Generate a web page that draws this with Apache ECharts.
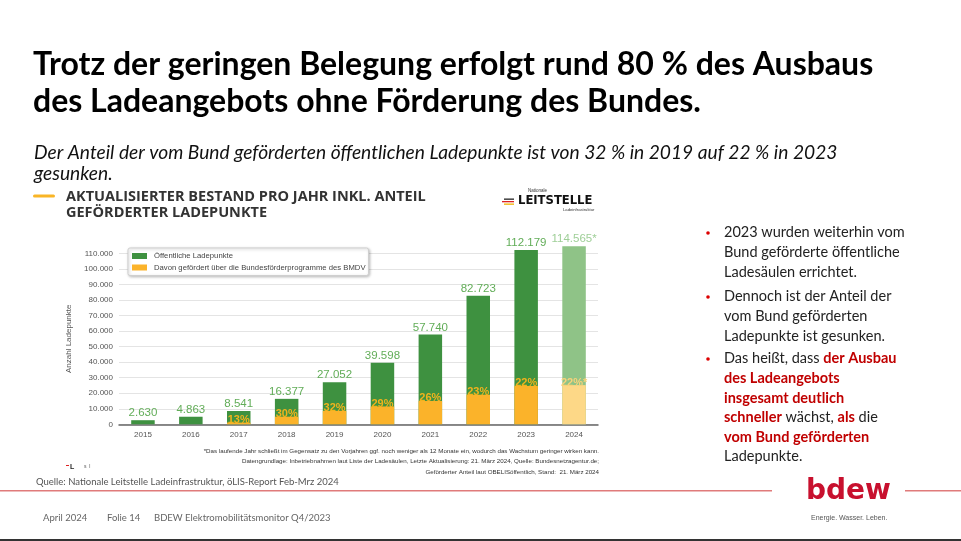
<!DOCTYPE html>
<html><head><meta charset="utf-8">
<script src="https://cdn.jsdelivr.net/npm/echarts@6/dist/echarts.min.js"></script>
<style>html,body{margin:0;padding:0;background:#fff}#c{width:961px;height:541px}</style>
</head><body><div id="c"></div>
<script>
const years = ['2015','2016','2017','2018','2019','2020','2021','2022','2023','2024'];
const totalPoints = [2630, 4863, 8541, 16377, 27052, 39598, 57740, 82723, 112179, 114565];
const fundedShare = [null, null, 13, 30, 32, 29, 26, 23, 22, 22];
const yTicks = [0, 10000, 20000, 30000, 40000, 50000, 60000, 70000, 80000, 90000, 100000, 110000];

const GREEN = '#3e9140', YELLOW = '#fbb32a', GREEN_L = '#8fc387', YELLOW_L = '#fdd887';
const LBL_G = '#62ad58', LBL_G_L = '#9fcf98', LBL_Y = '#f3b31c', LBL_Y_L = '#f8d27a';
const fmt = v => String(v).replace(/\B(?=(\d{3})+(?!\d))/g, '.');
const last = years.length - 1;

const greenData = totalPoints.map((v, i) => ({
  value: v,
  itemStyle: { color: i === last ? GREEN_L : GREEN },
  label: { color: i === last ? LBL_G_L : LBL_G, formatter: fmt(v) + (i === last ? '*' : '') }
}));
const yellowData = totalPoints.map((v, i) => fundedShare[i] == null ? { value: 0, label: { show: false } } : ({
  value: Math.round(v * fundedShare[i] / 100),
  itemStyle: { color: i === last ? YELLOW_L : YELLOW },
  label: { color: i === last ? LBL_Y_L : LBL_Y, formatter: fundedShare[i] + '%' + (i === last ? '*' : '') }
}));

const F = 'Lato';
const chart = echarts.init(document.getElementById('c'));
// text placed by its left edge and vertical centre
const txt = (x, y, text, style) => ({ type: 'text', x, y, style: Object.assign({ text, fontFamily: F, fill: '#222', verticalAlign: 'middle' }, style) });
const bulletLines = { fontFamily: F, fontSize: 14.5, lineHeight: 19.6, fill: '#222',
  rich: { r: { fontFamily: F, fontSize: 14.5, lineHeight: 19.6, fill: '#c00000', fontWeight: 'bold' } } };
const foot = (y, text) => ({ type: 'text', x: 599, y, style: { text, fontSize: 6.2, fill: '#333', fontFamily: 'Liberation Sans', align: 'right', verticalAlign: 'middle' } });

chart.setOption({
  animation: false,
  grid: { left: 119, right: 363, top: 253.3, bottom: 116.7, containLabel: false },
  legend: {
    left: 128, top: 248, orient: 'vertical', itemWidth: 15, itemHeight: 6, itemGap: 3.5,
    padding: [4, 3, 4, 4], backgroundColor: '#fff', borderColor: '#cfcfcf', borderWidth: 1, borderRadius: 2,
    shadowColor: 'rgba(0,0,0,0.25)', shadowBlur: 3, shadowOffsetX: 1, shadowOffsetY: 1,
    icon: 'rect', textStyle: { fontSize: 7.7, color: '#444', fontFamily: 'Liberation Sans', padding: [0, 0, 0, 2] },
    data: ['Öffentliche Ladepunkte', 'Davon gefördert über die Bundesförderprogramme des BMDV']
  },
  xAxis: {
    type: 'category', data: years,
    axisLine: { lineStyle: { color: '#666', width: 1.5 } }, axisTick: { show: false },
    axisLabel: { color: '#555', fontSize: 8, fontFamily: 'Liberation Sans', margin: 6 }
  },
  yAxis: {
    type: 'value', min: 0, max: 110000, interval: 10000,
    name: 'Anzahl Ladepunkte', nameLocation: 'middle', nameGap: 46, nameRotate: 90,
    nameTextStyle: { color: '#555', fontSize: 8, fontFamily: 'Liberation Sans' },
    axisLine: { show: false }, axisTick: { show: false },
    axisLabel: { color: '#555', fontSize: 8, fontFamily: 'Liberation Sans', margin: 6,
      formatter: v => yTicks.includes(v) ? fmt(v) : '' },
    splitLine: { lineStyle: { color: '#e4e4e4', width: 1 } }
  },
  series: [
    { name: 'Öffentliche Ladepunkte', type: 'bar', data: greenData, barWidth: 23.5, clip: false, z: 2,
      itemStyle: { color: GREEN },
      label: { show: true, position: 'top', distance: 1, fontSize: 11.5, fontFamily: 'Liberation Sans' } },
    { name: 'Davon gefördert über die Bundesförderprogramme des BMDV', type: 'bar', data: yellowData, barWidth: 23.5,
      barGap: '-100%', clip: false, z: 3, itemStyle: { color: YELLOW },
      label: { show: true, position: 'top', distance: -3, fontSize: 11, fontWeight: 'bold', fontFamily: 'Liberation Sans' } }
  ],
  graphic: [
    txt(33, 65, 'Trotz der geringen Belegung erfolgt rund 80 % des Ausbaus', { fontSize: 32, fontWeight: 'bold', fill: '#000' }),
    txt(33, 102, 'des Ladeangebots ohne Förderung des Bundes.', { fontSize: 32, fontWeight: 'bold', fill: '#000' }),
    txt(34, 153, 'Der Anteil der vom Bund geförderten öffentlichen Ladepunkte ist von 32 % in 2019 auf 22 % in 2023', { fontSize: 19.2, fontStyle: 'italic', fill: '#111' }),
    txt(34, 174, 'gesunken.', { fontSize: 19.2, fontStyle: 'italic', fill: '#111' }),
    { type: 'rect', shape: { x: 33, y: 194.5, width: 22, height: 3, r: 1.5 }, style: { fill: '#f9b526' } },
    txt(66, 197, 'AKTUALISIERTER BESTAND PRO JAHR INKL. ANTEIL', { fontSize: 14.5, fontWeight: 'bold', fill: '#333', fontFamily: 'Open Sans' }),
    txt(66, 213, 'GEFÖRDERTER LADEPUNKTE', { fontSize: 14.5, fontWeight: 'bold', fill: '#333', fontFamily: 'Open Sans' }),
    // Leitstelle logo
    { type: 'rect', shape: { x: 504, y: 198.5, width: 10, height: 1.3 }, style: { fill: '#222' } },
    { type: 'rect', shape: { x: 502, y: 201, width: 12, height: 1.3 }, style: { fill: '#d22' } },
    { type: 'rect', shape: { x: 504, y: 203.5, width: 10, height: 1.3 }, style: { fill: '#f0b400' } },
    txt(518, 201, 'LEITSTELLE', { fontSize: 11.6, fontWeight: 'bold', fill: '#111', fontFamily: 'DejaVu Sans' }),
    txt(528, 191, 'Nationale', { fontSize: 4.5, fill: '#333', fontFamily: 'Liberation Sans' }),
    txt(563, 210, 'Ladeinfrastruktur', { fontSize: 4.2, fill: '#333', fontFamily: 'Liberation Sans' }),
    // footnotes
    foot(451, '*Das laufende Jahr schließt im Gegensatz zu den Vorjahren ggf. noch weniger als 12 Monate ein, wodurch das Wachstum geringer wirken kann.'),
    foot(461.5, 'Datengrundlage: Inbetriebnahmen laut Liste der Ladesäulen, Letzte Aktualisierung: 21. März 2024, Quelle: Bundesnetzagentur.de;'),
    foot(472, 'Geförderter Anteil laut OBELISöffentlich, Stand:  21. März 2024'),
    txt(70, 467, 'L', { fontSize: 7, fontWeight: 'bold', fill: '#222', fontFamily: 'Liberation Sans' }),
    { type: 'rect', shape: { x: 66, y: 465, width: 3, height: 1 }, style: { fill: '#d22' } },
    txt(84, 467, 's  l', { fontSize: 5, fill: '#555', fontFamily: 'Liberation Sans' }),
    txt(36, 482, 'Quelle: Nationale Leitstelle Ladeinfrastruktur, öLIS-Report Feb-Mrz 2024', { fontSize: 9.5, fill: '#555' }),
    // right bullets
    { type: 'circle', shape: { cx: 708, cy: 233, r: 1.8 }, style: { fill: '#d00' } },
    { type: 'circle', shape: { cx: 708, cy: 297, r: 1.8 }, style: { fill: '#d00' } },
    { type: 'circle', shape: { cx: 708, cy: 359, r: 1.8 }, style: { fill: '#d00' } },
    { type: 'text', left: 724, top: 223, style: Object.assign({ text: '2023 wurden weiterhin vom\nBund geförderte öffentliche\nLadesäulen errichtet.' }, bulletLines) },
    { type: 'text', left: 724, top: 287, style: Object.assign({ text: 'Dennoch ist der Anteil der\nvom Bund geförderten\nLadepunkte ist gesunken.' }, bulletLines) },
    { type: 'text', left: 724, top: 349, style: Object.assign({ text: 'Das heißt, dass {r|der Ausbau}\n{r|des Ladeangebots}\n{r|insgesamt deutlich}\n{r|schneller} wächst, {r|als} die\n{r|vom Bund geförderten}\nLadepunkte.' }, bulletLines) },
    // footer line and logo
    { type: 'rect', shape: { x: 0, y: 490, width: 772, height: 1.5 }, style: { fill: '#e07b7b' } },
    { type: 'rect', shape: { x: 905, y: 490, width: 56, height: 1.5 }, style: { fill: '#e07b7b' } },
    txt(806, 492, 'bdew', { fontSize: 28, fontWeight: 'bold', fill: '#c8102e', fontFamily: 'DejaVu Sans', letterSpacing: -1 }),
    txt(811, 518, 'Energie. Wasser. Leben.', { fontSize: 7, fill: '#555', fontFamily: 'Liberation Sans' }),
    txt(43, 518, 'April 2024', { fontSize: 9.5, fill: '#666' }),
    txt(107, 518, 'Folie 14', { fontSize: 9.5, fill: '#666' }),
    txt(154, 518, 'BDEW Elektromobilitätsmonitor Q4/2023', { fontSize: 9.5, fill: '#666' }),
    { type: 'rect', shape: { x: 0, y: 539, width: 961, height: 2 }, style: { fill: '#333' } }
  ]
});
</script></body></html>
